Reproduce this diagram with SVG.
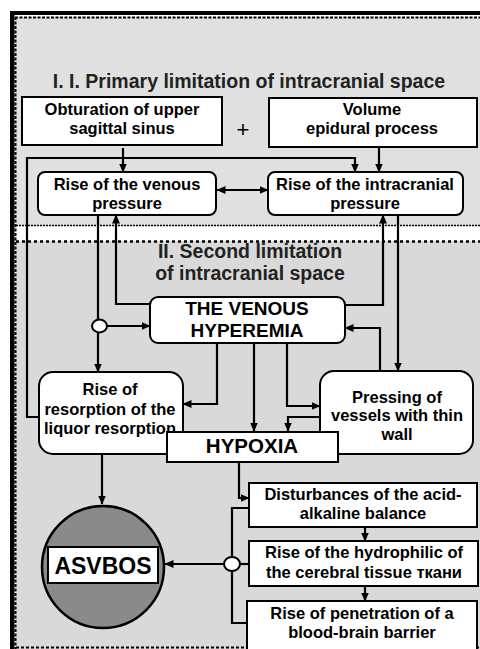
<svg xmlns="http://www.w3.org/2000/svg" width="480" height="649" viewBox="0 0 480 649">
<defs>
<marker id="ah" markerUnits="userSpaceOnUse" markerWidth="9" markerHeight="8" refX="8.5" refY="4" orient="auto-start-reverse">
<path d="M0,0 L9,4 L0,8 z" fill="#000"/>
</marker>
<style>
.bx{fill:#fff;stroke:#000;stroke-width:2}
.t{font-family:"Liberation Sans",Arial,sans-serif;font-weight:bold;font-size:16.5px;fill:#000;text-anchor:middle}
.h{font-family:"Liberation Sans",Arial,sans-serif;font-weight:bold;font-size:19.5px;fill:#222;text-anchor:middle}
.c path{fill:none;stroke:#000;stroke-width:2.2}
.a{marker-end:url(#ah)}
.dot{stroke:#000;fill:none}
</style>
</defs>
<rect x="0" y="0" width="480" height="649" fill="#fff"/>
<g id="frame">
<rect x="16" y="17" width="464" height="209" fill="#e0e0e0"/>
<rect x="16" y="241" width="464" height="408" fill="#d9d9d9"/>
<rect x="10" y="11" width="470" height="4" fill="#000"/>
<rect x="10" y="11" width="4.5" height="638" fill="#000"/>
<path class="dot" d="M15,17.5 H480" stroke-width="2" stroke-dasharray="3 1.5"/>
<path class="dot" d="M15.5,17 V649" stroke-width="2" stroke-dasharray="3 1.5"/>
<path class="dot" d="M16,225.5 H480" stroke-width="1.5" stroke-dasharray="2 1"/>
<path class="dot" d="M16,241.5 H480" stroke-width="2.5" stroke-dasharray="3 3"/>
<path class="dot" d="M16,647.5 H480" stroke-width="2" stroke-dasharray="3 2"/>
</g>
<text class="h" x="249" y="88">I. I. Primary limitation of intracranial space</text>
<text class="h" x="250" y="258">II. Second limitation</text>
<text class="h" x="250" y="280">of intracranial space</text>
<text x="243" y="137" font-family="Liberation Sans,Arial,sans-serif" font-size="22" text-anchor="middle" fill="#000">+</text>
<g class="c" id="connectors">
<path class="a" d="M123,148 V172"/>
<path class="a" d="M379,148 V172"/>
<path class="a" d="M40,417 H27 V158 H355 V172"/>
<path class="a" d="M217,190 H268" marker-start="url(#ah)"/>
<path class="a" d="M98,215 V372"/>
<path class="a" d="M106,326 H150"/>
<path class="a" d="M150,304 H116 V215"/>
<path class="a" d="M345,305 H383 V215"/>
<path class="a" d="M398,215 V371"/>
<path class="a" d="M380,371 V328 H345"/>
<path class="a" d="M217,343 V404 H183"/>
<path class="a" d="M254,343 V431"/>
<path class="a" d="M287,343 V406 H320"/>
<path class="a" d="M320,417 H288 V431"/>
<path class="a" d="M102,454 V504"/>
<path class="a" d="M239,462 V498 H249"/>
<path class="a" d="M365,527 V541"/>
<path class="a" d="M365,586 V601"/>
<path d="M249,508 H232 V623 H247"/>
<path d="M240,564 H249"/>
<path class="a" d="M224,564 H165"/>
</g>
<g id="n_obturation">
<rect class="bx" x="22" y="97" width="200" height="48"/>
<text class="t" x="122" y="115">Obturation of upper</text>
<text class="t" x="122" y="134">sagittal sinus</text>
</g>
<g id="n_volume">
<rect class="bx" x="269" y="98" width="208" height="49"/>
<text class="t" x="372" y="115">Volume</text>
<text class="t" x="372" y="134">epidural process</text>
</g>
<g id="n_venous">
<rect class="bx" x="38" y="172" width="178" height="43" rx="7"/>
<text class="t" x="127" y="190">Rise of the venous</text>
<text class="t" x="127" y="209">pressure</text>
</g>
<g id="n_intracranial">
<rect class="bx" x="268" y="172" width="195" height="43" rx="7"/>
<text class="t" x="365" y="190">Rise of the intracranial</text>
<text class="t" x="365" y="209">pressure</text>
</g>
<g id="n_hyperemia">
<rect class="bx" x="150" y="297" width="195" height="46" rx="8"/>
<text class="t" x="247" y="315" style="font-size:19px">THE VENOUS</text>
<text class="t" x="247" y="337" style="font-size:19px">HYPEREMIA</text>
</g>
<g id="n_circle1">
<ellipse cx="99.5" cy="326" rx="7.5" ry="6.5" fill="#fff" stroke="#000" stroke-width="2"/>
</g>
<g id="n_resorption">
<rect class="bx" x="39" y="372" width="144" height="82" rx="14"/>
<text class="t" x="110" y="395">Rise of</text>
<text class="t" x="110" y="415">resorption of the</text>
<text class="t" x="110" y="434">liquor resorption</text>
</g>
<g id="n_pressing">
<rect class="bx" x="320" y="371" width="153" height="83" rx="14"/>
<text class="t" x="397" y="403">Pressing of</text>
<text class="t" x="397" y="421">vessels with thin</text>
<text class="t" x="397" y="440">wall</text>
</g>
<g id="n_hypoxia">
<rect class="bx" x="167" y="432" width="171" height="30"/>
<text class="t" x="252" y="453" style="font-size:20.5px">HYPOXIA</text>
</g>
<g id="n_asvbos">
<circle cx="103" cy="567" r="61" fill="#8a8a8a" stroke="#000" stroke-width="2.5"/>
<rect x="48" y="547" width="110" height="36" fill="#fff" stroke="#000" stroke-width="2"/>
<text class="t" x="103" y="574" style="font-size:23px">ASVBOS</text>
</g>
<g id="n_disturbances">
<rect class="bx" x="249" y="483" width="228" height="44"/>
<text class="t" x="363" y="500">Disturbances of the acid-</text>
<text class="t" x="363" y="519">alkaline balance</text>
</g>
<g id="n_hydrophilic">
<rect class="bx" x="249" y="541" width="229" height="45"/>
<text class="t" x="364" y="558">Rise of the hydrophilic of</text>
<text class="t" x="364" y="578">the cerebral tissue ткани</text>
</g>
<g id="n_penetration">
<rect class="bx" x="247" y="601" width="230" height="52"/>
<text class="t" x="362" y="619">Rise of penetration of a</text>
<text class="t" x="362" y="638">blood-brain barrier</text>
</g>
<g id="n_circle2">
<ellipse cx="232" cy="564" rx="8" ry="7" fill="#fff" stroke="#000" stroke-width="2"/>
</g>
</svg>
